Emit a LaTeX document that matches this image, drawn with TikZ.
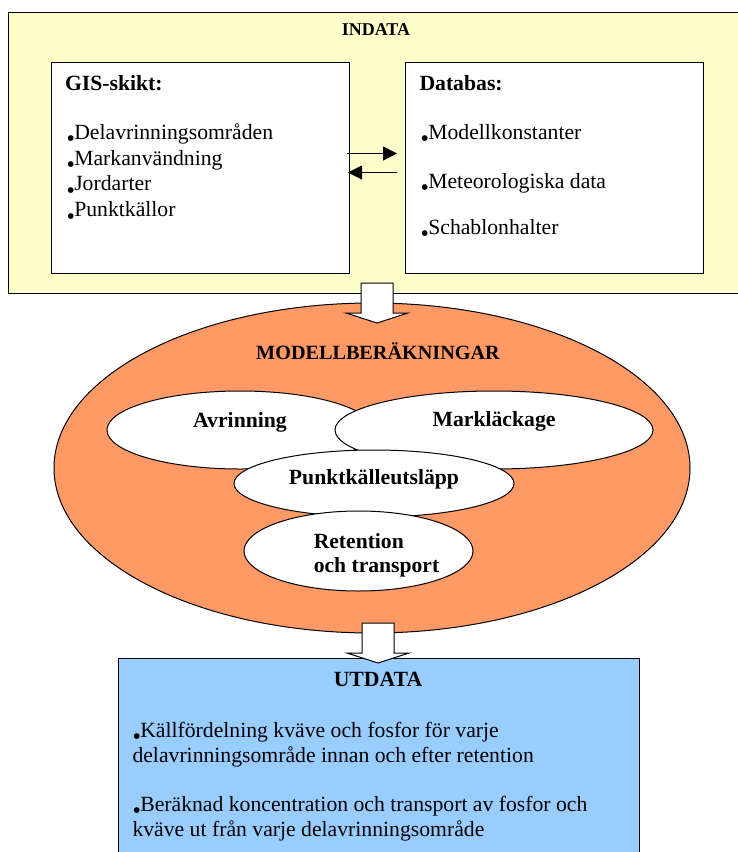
\documentclass[tikz,border=0pt]{standalone}
\usepackage{fontspec}
\setmainfont{Liberation Serif}
\usepackage{tikz}
\usetikzlibrary{shapes,arrows.meta,positioning}
\definecolor{gul}{RGB}{255,255,204}
\definecolor{modorange}{RGB}{255,153,102}
\definecolor{ljusbla}{RGB}{153,204,255}
\newcommand{\brod}{\fontsize{21.7}{26}\selectfont}
\newcommand{\pkt}{\smash{\raisebox{-7.5pt}{\fontsize{24}{24}\selectfont\textbullet}}\kern-0.6pt}
\newcommand{\blockpil}[1]{\draw[pilfyll] (#1) ++(-16,0) -- ++(0,30) -- ++(-15,0) -- ++(31,10) -- ++(31,-10) -- ++(-15,0) -- ++(0,-30) -- cycle;}

\begin{document}
\begin{tikzpicture}[x=1pt, y=-1pt, line width=1pt,
    ruta/.style={draw, rectangle, anchor=north west, inner sep=0pt},
    rad/.style={anchor=base west, inner sep=0pt, font=\brod},
    rubrik/.style={inner sep=0pt, font=\brod\bfseries},
    delel/.style={draw, ellipse, fill=white, inner sep=0pt},
    pil/.style={-{Triangle[length=14pt,width=14pt]}},
    pilfyll/.style={draw, fill=white}]
    \useasboundingbox (0,0) rectangle (738,852);

    % indata
    \node[ruta, fill=gul, minimum width=740, minimum height=281] (indata) at (8,12) {};
    \node[rubrik, anchor=base, font=\fontsize{18}{22}\selectfont\bfseries] (indtitel) at (376,35.7) {INDATA};

    \node[ruta, fill=white, minimum width=298, minimum height=211] (gis) at (51,62) {};
    \node[ruta, fill=white, minimum width=298, minimum height=211] (db) at (405,62) {};

    \node[rubrik, anchor=base west] (gistitel) at (64.5,90.7) {GIS-skikt:};
    \node[rad] (delomr) at (66,139.3) {\pkt Delavrinningsområden};
    \node[rad] (markanv) at ([yshift=-25.8pt]delomr.base west) {\pkt Markanvändning};
    \node[rad] (jord) at ([yshift=-25.8pt]markanv.base west) {\pkt Jordarter};
    \node[rad] (punkt) at ([yshift=-25.8pt]jord.base west) {\pkt Punktkällor};

    \node[rubrik, anchor=base west] (dbtitel) at (419,90.7) {Databas:};
    \node[rad] (konst) at (420,139.3) {\pkt Modellkonstanter};
    \node[rad] (meteo) at ([yshift=-49pt]konst.base west) {\pkt Meteorologiska data};
    \node[rad] (schabl) at ([yshift=-46pt]meteo.base west) {\pkt Schablonhalter};

    \draw[pil, shorten <=-3pt, shorten >=8pt] ([yshift=14.5pt]gis.east) -- ([yshift=14.5pt]db.west);
    \draw[pil, shorten <=8pt, shorten >=-2pt] ([yshift=-4.5pt]db.west) -- ([yshift=-4.5pt]gis.east);

    % modellberakningar
    \node[draw, ellipse, fill=modorange, inner sep=0pt, minimum width=636, minimum height=330] (modell) at (372,468) {};
    \coordinate (pil1) at (377,283);
    \blockpil{pil1}
    \node[rubrik, anchor=base, font=\fontsize{20.2}{24}\selectfont\bfseries] (modtitel) at (378,359) {MODELLBERÄKNINGAR};

    \node[delel, minimum width=266, minimum height=78, label={[rubrik, yshift=8pt]center:Avrinning}] (avr) at (240,430) {};
    \node[delel, minimum width=318, minimum height=78, label={[rubrik, yshift=8.3pt]center:Markläckage}] (markl) at (494,430) {};
    \node[delel, minimum width=280, minimum height=67, label={[rubrik, yshift=4.5pt]center:Punktkälleutsläpp}] (punktk) at (374,483.5) {};
    \node[delel, minimum width=229, minimum height=80, label={[rubrik, font=\fontsize{21.6}{24}\selectfont\bfseries, align=left, xshift=18pt, yshift=-4.5pt]center:Retention\\och transport}] (ret) at (358.5,551) {};

    % utdata
    \node[ruta, fill=ljusbla, minimum width=521.5, minimum height=220] (utdata) at (117.5,658) {};
    \coordinate (pil2) at (378,623);
    \blockpil{pil2}
    \node[rubrik, anchor=base] (uttitel) at (378,686) {UTDATA};
    \node[rad] (kallf) at (132,737) {\pkt Källfördelning kväve och fosfor för varje};
    \node[rad] (kallf2) at ([yshift=-25pt]kallf.base west) {delavrinningsområde innan och efter retention};
    \node[rad] (konc) at ([yshift=-49pt]kallf2.base west) {\pkt Beräknad koncentration och transport av fosfor och};
    \node[rad] (konc2) at ([yshift=-25pt]konc.base west) {kväve ut från varje delavrinningsområde};
\end{tikzpicture}
\end{document}
